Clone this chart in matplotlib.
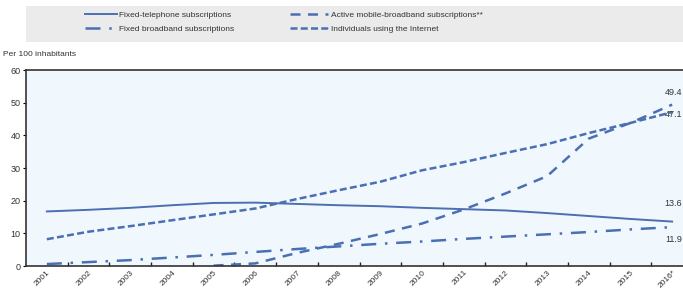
import numpy as np
import matplotlib
matplotlib.use("Agg")
import matplotlib.pyplot as plt
from matplotlib.patches import Rectangle

plt.rcParams['font.family'] = ['Liberation Sans', 'DejaVu Sans']

# données (pour 100 habitants)
years = ["2001", "2002", "2003", "2004", "2005", "2006", "2007", "2008",
         "2009", "2010", "2011", "2012", "2013", "2014", "2015", "2016*"]
fixed_tel = [16.7, 17.2, 17.8, 18.6, 19.3, 19.4, 19.0, 18.6,
             18.3, 17.8, 17.4, 17.0, 16.2, 15.3, 14.4, 13.6]
fixed_bb = [0.6, 1.2, 1.8, 2.6, 3.4, 4.3, 5.2, 6.0,
            6.8, 7.5, 8.3, 9.0, 9.7, 10.4, 11.2, 11.9]
mobile_bb = [np.nan, np.nan, np.nan, np.nan, 0.1, 0.8, 4.0, 6.8,
             9.8, 13.0, 17.3, 22.2, 27.5, 39.0, 43.8, 49.4]
internet = [8.2, 10.5, 12.2, 14.0, 15.8, 17.6, 20.5, 23.2,
            25.8, 29.3, 31.8, 34.6, 37.3, 40.7, 43.8, 47.1]
end_labels = ["49.4", "47.1", "13.6", "11.9"]

col = "#4a6fb3"
txt = "#333333"

fig = plt.figure(figsize=(6.83, 2.90), dpi=100)
fig.patches.append(Rectangle((26/683, 1-42/290), 1, 36/290, transform=fig.transFigure,
                             facecolor="#ebebeb", edgecolor="none", zorder=0))

ax = fig.add_axes([26/683, 24/290, 667/683, 196/290])
ax.set_facecolor("#f1f8fd")
x = np.arange(len(years))

l1, = ax.plot(x, fixed_tel, color=col, lw=1.4, label="Fixed-telephone subscriptions")
l2, = ax.plot(x, fixed_bb, color=col, lw=1.8, dashes=(6, 3.5, 1, 3.5),
              label="Fixed broadband subscriptions")
l3, = ax.plot(x, mobile_bb, color=col, lw=1.8, dashes=(4, 3),
              label="Active mobile-broadband subscriptions**")
l4, = ax.plot(x, internet, color=col, lw=1.8, dashes=(2.8, 1.3),
              label="Individuals using the Internet")

ax.set_xlim(-0.5, 15.5)
ax.set_ylim(0, 60)
ax.set_yticks(range(0, 61, 10))
ax.set_xticks(x)
ax.set_xticklabels(years, rotation=45, ha="right", rotation_mode="anchor")
ax.set_xticks(np.arange(0.5, 15, 1), minor=True)
ax.tick_params(axis="x", which="major", length=0, pad=2, labelsize=6, labelcolor=txt)
ax.tick_params(axis="x", which="minor", direction="in", length=3, width=1, color="#222222")
ax.tick_params(axis="y", length=2, direction="out", pad=2, labelsize=6.5, labelcolor=txt)
for s in ["left", "bottom", "top"]:
    ax.spines[s].set_color("#333333")
    ax.spines[s].set_linewidth(1.2)
ax.spines["right"].set_visible(False)

# étiquettes de fin de série, calées sur le bord droit
offsets = [9, -2, 13, -9]
for v, lab, dy in zip([mobile_bb[-1], internet[-1], fixed_tel[-1], fixed_bb[-1]],
                      end_labels, offsets):
    ax.annotate(lab, (15, v), xytext=(7, dy), textcoords="offset points",
                fontsize=6.5, color=txt, va="center", ha="right",
                annotation_clip=False)

fig.text(3/683, 1-55/290, "Per 100 inhabitants", fontsize=6, color=txt, va="center")

fig.legend(handles=[l1, l2], loc="upper left", bbox_to_anchor=(85/683, 1-11/290),
           frameon=False, fontsize=6, handlelength=3.8, handletextpad=0.3,
           labelspacing=0.75, borderpad=0, borderaxespad=0)
fig.legend(handles=[l3, l4], loc="upper left", bbox_to_anchor=(290/683, 1-11/290),
           frameon=False, fontsize=6, handlelength=4.6, handletextpad=0.3,
           labelspacing=0.75, borderpad=0, borderaxespad=0)
for lg in fig.legends:
    for t in lg.get_texts():
        t.set_color(txt)

fig.savefig("out.png", dpi=100)
